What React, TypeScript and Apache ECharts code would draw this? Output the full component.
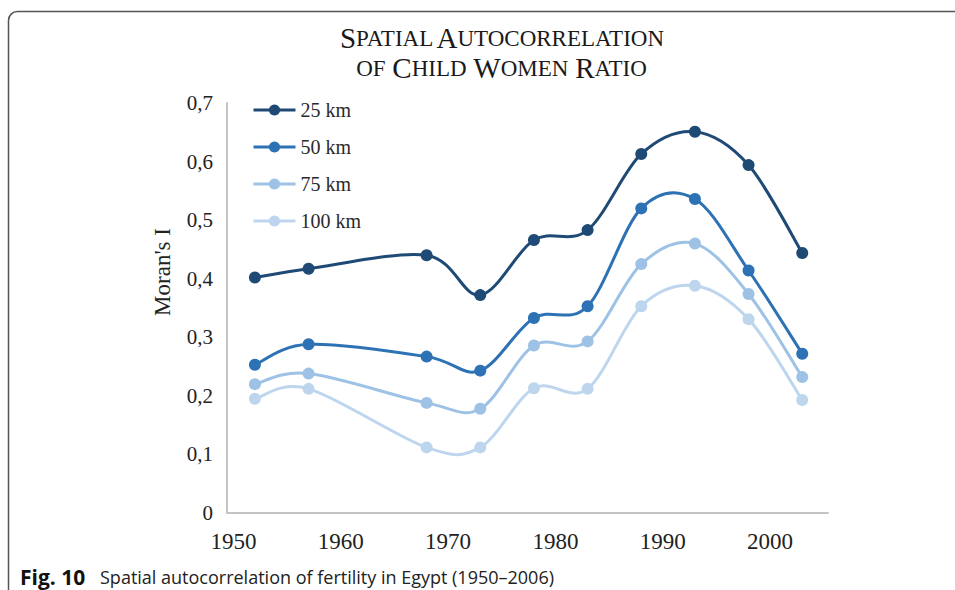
import React, { useEffect, useRef } from "react";
import * as echarts from "echarts";

const years = [1952, 1957, 1968, 1973, 1978, 1983, 1988, 1993, 1998, 2003];
const km25 = [0.402, 0.417, 0.44, 0.372, 0.466, 0.483, 0.613, 0.651, 0.594, 0.444];
const km50 = [0.253, 0.288, 0.267, 0.243, 0.333, 0.353, 0.52, 0.536, 0.414, 0.272];
const km75 = [0.22, 0.238, 0.188, 0.178, 0.286, 0.293, 0.425, 0.46, 0.374, 0.232];
const km100 = [0.195, 0.212, 0.112, 0.112, 0.213, 0.212, 0.353, 0.388, 0.331, 0.193];
const seriesNames = ["25 km", "50 km", "75 km", "100 km"];
const seriesColors = ["#1f4a75", "#2d72b4", "#9dc2e5", "#bdd6ee"];
const xTicks = [1950, 1960, 1970, 1980, 1990, 2000];

const SERIF = "'Liberation Serif', 'DejaVu Serif', serif";
const SANS = "'Open Sans', 'Noto Sans', sans-serif";

export default function App() {
  const ref = useRef<HTMLDivElement>(null);
  useEffect(() => {
    if (!ref.current) return;
    const chart = echarts.init(ref.current, null, { renderer: "svg" });
    const data = [km25, km50, km75, km100];
    const n = years.length;

    const curveSeries = data.map((vals, i) => ({
      name: seriesNames[i] + " curve",
      type: "custom",
      z: 5 - i,
      silent: true,
      data: years.map((y, j) => [y, vals[j], j]),
      encode: { x: 0, y: 1 },
      renderItem: (params: any, api: any) => {
        const j = params.dataIndex;
        if (j >= n - 1) return { type: "group", children: [] };
        const pt = (k: number) => {
          const kk = Math.max(0, Math.min(n - 1, k));
          return api.coord([years[kk], vals[kk]]);
        };
        const p0 = pt(j - 1);
        const p1 = pt(j);
        const p2 = pt(j + 1);
        const p3 = pt(j + 2);
        const t = 1 / 6;
        return {
          type: "bezierCurve",
          shape: {
            x1: p1[0],
            y1: p1[1],
            cpx1: p1[0] + (p2[0] - p0[0]) * t,
            cpy1: p1[1] + (p2[1] - p0[1]) * t,
            cpx2: p2[0] - (p3[0] - p1[0]) * t,
            cpy2: p2[1] - (p3[1] - p1[1]) * t,
            x2: p2[0],
            y2: p2[1],
          },
          style: { stroke: seriesColors[i], lineWidth: 3, fill: "none" },
        };
      },
    }));

    const pointSeries = data.map((vals, i) => ({
      name: seriesNames[i],
      type: "line",
      symbol: "circle",
      symbolSize: 12,
      data: years.map((y, j) => [y, vals[j]]),
      lineStyle: { color: seriesColors[i], width: 0, opacity: 0 },
      itemStyle: { color: seriesColors[i] },
      z: 10 - i,
    }));

    chart.setOption({
      animation: false,
      backgroundColor: "#ffffff",
      grid: { left: 227, right: 127, top: 103, bottom: 77, containLabel: false },
      legend: {
        data: seriesNames.map((nm, i) => ({
          name: nm,
          itemStyle: { color: seriesColors[i] },
          lineStyle: { color: seriesColors[i], width: 3, opacity: 1 },
        })),
        orient: "vertical",
        left: 247,
        top: 95,
        itemWidth: 42,
        itemHeight: 14,
        itemGap: 17,
        textStyle: { fontFamily: SERIF, fontSize: 20, color: "#2a2a2a" },
      },
      xAxis: {
        type: "value",
        min: 1949.4,
        max: 2005.4,
        splitLine: { show: false },
        axisTick: { show: false },
        axisLine: { show: true, lineStyle: { color: "#c4c4c4", width: 2 } },
        axisLabel: {
          customValues: xTicks,
          fontFamily: SERIF,
          fontSize: 23,
          color: "#222",
          margin: 17,
          formatter: (v: number) => String(Math.round(v)),
        },
      },
      yAxis: {
        type: "value",
        min: 0,
        max: 0.7,
        interval: 0.1,
        splitLine: { show: false },
        axisTick: { show: false },
        axisLine: { show: true, lineStyle: { color: "#c4c4c4", width: 2 } },
        axisLabel: {
          fontFamily: SERIF,
          fontSize: 21,
          color: "#222",
          margin: 14,
          formatter: (v: number) => (Math.round(v * 10) / 10).toString().replace(".", ","),
        },
      },
      graphic: [
        {
          type: "rect",
          shape: { x: 8.5, y: 11.5, width: 1000, height: 620, r: 9 },
          style: { fill: "none", stroke: "#555", lineWidth: 1.5 },
          silent: true,
        },
        {
          type: "text",
          x: 502,
          y: 38,
          style: {
            text: "{b|S}{s|PATIAL} {b|A}{s|UTOCORRELATION}",
            align: "center",
            verticalAlign: "middle",
            rich: {
              b: { fontFamily: SERIF, fontSize: 29, fill: "#1a1a1a" },
              s: { fontFamily: SERIF, fontSize: 23, fill: "#1a1a1a" },
            },
          },
        },
        {
          type: "text",
          x: 502,
          y: 68,
          style: {
            text: "{s|OF }{b|C}{s|HILD }{b|W}{s|OMEN }{b|R}{s|ATIO}",
            align: "center",
            verticalAlign: "middle",
            rich: {
              b: { fontFamily: SERIF, fontSize: 29, fill: "#1a1a1a" },
              s: { fontFamily: SERIF, fontSize: 23, fill: "#1a1a1a", padding: [0, 1, 0, 0] },
            },
          },
        },
        {
          type: "text",
          x: 162,
          y: 272,
          rotation: Math.PI / 2,
          style: {
            text: "Moran's I",
            fontFamily: SERIF,
            fontSize: 23,
            fill: "#222",
            align: "center",
            verticalAlign: "middle",
          },
        },
        {
          type: "text",
          x: 20,
          y: 577,
          style: {
            text: "Fig. 10",
            fontFamily: SANS,
            fontSize: 21,
            fontWeight: "bold",
            fill: "#111",
            verticalAlign: "middle",
          },
        },
        {
          type: "text",
          x: 100,
          y: 577,
          style: {
            text: "Spatial autocorrelation of fertility in Egypt (1950–2006)",
            fontFamily: SANS,
            fontSize: 18,
            fill: "#222",
            verticalAlign: "middle",
          },
        },
      ],
      series: [...curveSeries, ...pointSeries],
    });
    return () => chart.dispose();
  }, []);
  return (
    <div
      ref={ref}
      style={{ position: "fixed", left: 0, top: 0, width: 955, height: 590, background: "#fff" }}
    />
  );
}
